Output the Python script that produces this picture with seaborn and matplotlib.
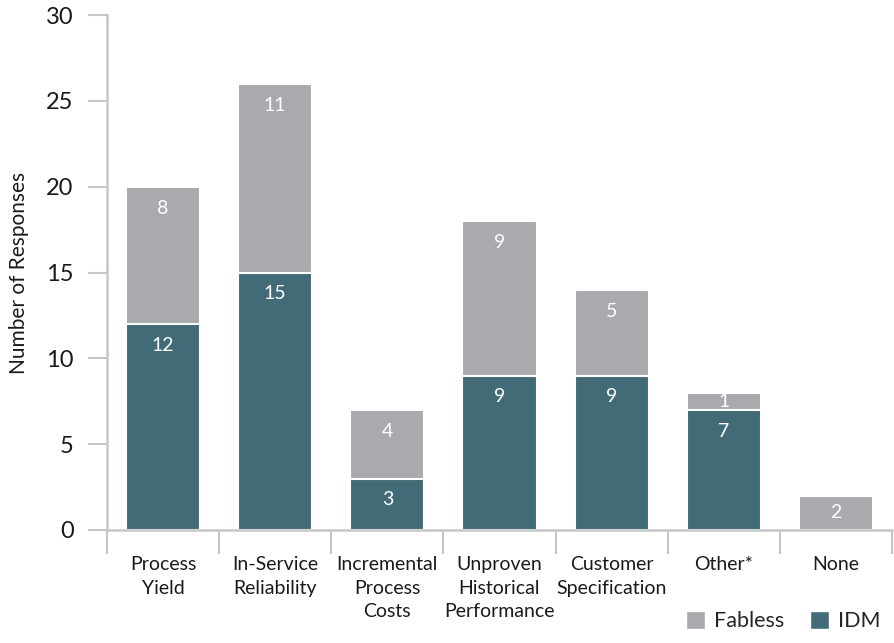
import matplotlib
matplotlib.use("Agg")
import matplotlib.pyplot as plt
from matplotlib.patches import Patch
import numpy as np
import pandas as pd
import seaborn as sns

categories = ["Process\nYield", "In-Service\nReliability", "Incremental\nProcess\nCosts",
              "Unproven\nHistorical\nPerformance", "Customer\nSpecification", "Other*", "None"]
idm = [12, 15, 3, 9, 9, 7, 0]
fabless = [8, 11, 4, 9, 5, 1, 2]
y_ticks = [0, 5, 10, 15, 20, 25, 30]

IDM_COLOR = "#426a77"
FABLESS_COLOR = "#a9aaae"
AXIS_COLOR = "#c6c6c8"
TEXT_COLOR = "#1a1a1a"

sns.set_style("white")
plt.rcParams["font.family"] = ["Lato", "DejaVu Sans"]

df = pd.DataFrame({"category": categories, "IDM": idm, "Fabless": fabless})
df["total"] = df["IDM"] + df["Fabless"]

fig = plt.figure(figsize=(8.95, 6.43), dpi=100)
ax = fig.add_axes([107 / 895, 1 - 530 / 643, (892 - 107) / 895, (530 - 15) / 643])

sns.barplot(data=df, x="category", y="total", color=FABLESS_COLOR, saturation=1,
            width=0.66, edgecolor="white", linewidth=1.5, ax=ax)
sns.barplot(data=df, x="category", y="IDM", color=IDM_COLOR, saturation=1,
            width=0.66, edgecolor="white", linewidth=1.5, ax=ax)

# value labels near the top of each segment
for i, row in df.iterrows():
    segs = [(0, row["IDM"]), (row["IDM"], row["total"])]
    for lo, hi in segs:
        h = hi - lo
        if h <= 0:
            continue
        y = hi - min(1.25, h / 2)
        ax.text(i, y, f"{int(h)}", ha="center", va="center", color="white",
                fontsize=14)

ax.set_ylim(0, 30)
ax.set_xlim(-0.5, len(categories) - 0.5)
ax.set_yticks(y_ticks)
ax.set_yticklabels([str(t) for t in y_ticks], fontsize=17, color=TEXT_COLOR)
ax.set_xticks(range(len(categories)))
ax.set_xticklabels(categories, fontsize=14, color=TEXT_COLOR, linespacing=1.45)
ax.set_xticks(np.arange(-0.5, len(categories), 1.0), minor=True)
ax.tick_params(axis="x", which="major", bottom=True, length=0, pad=19)
ax.tick_params(axis="x", which="minor", bottom=True, length=17, width=1.5, color=AXIS_COLOR)
ax.tick_params(axis="y", left=True, length=14, width=1.5, color=AXIS_COLOR, pad=10)
ax.set_xlabel("")
ax.set_ylabel("Number of Responses", fontsize=15, color=TEXT_COLOR, labelpad=12)

for side in ["top", "right"]:
    ax.spines[side].set_visible(False)
for side in ["left", "bottom"]:
    ax.spines[side].set_color(AXIS_COLOR)
    ax.spines[side].set_linewidth(1.8)

handles = [Patch(facecolor=FABLESS_COLOR, label="Fabless"),
           Patch(facecolor=IDM_COLOR, label="IDM")]
fig.legend(handles=handles, loc="lower right", bbox_to_anchor=(1.005, -0.012), ncol=2,
           frameon=False, fontsize=15.5, handlelength=0.9, handleheight=0.9,
           handletextpad=0.4, columnspacing=1.2)

fig.savefig("out.png", dpi=100)
